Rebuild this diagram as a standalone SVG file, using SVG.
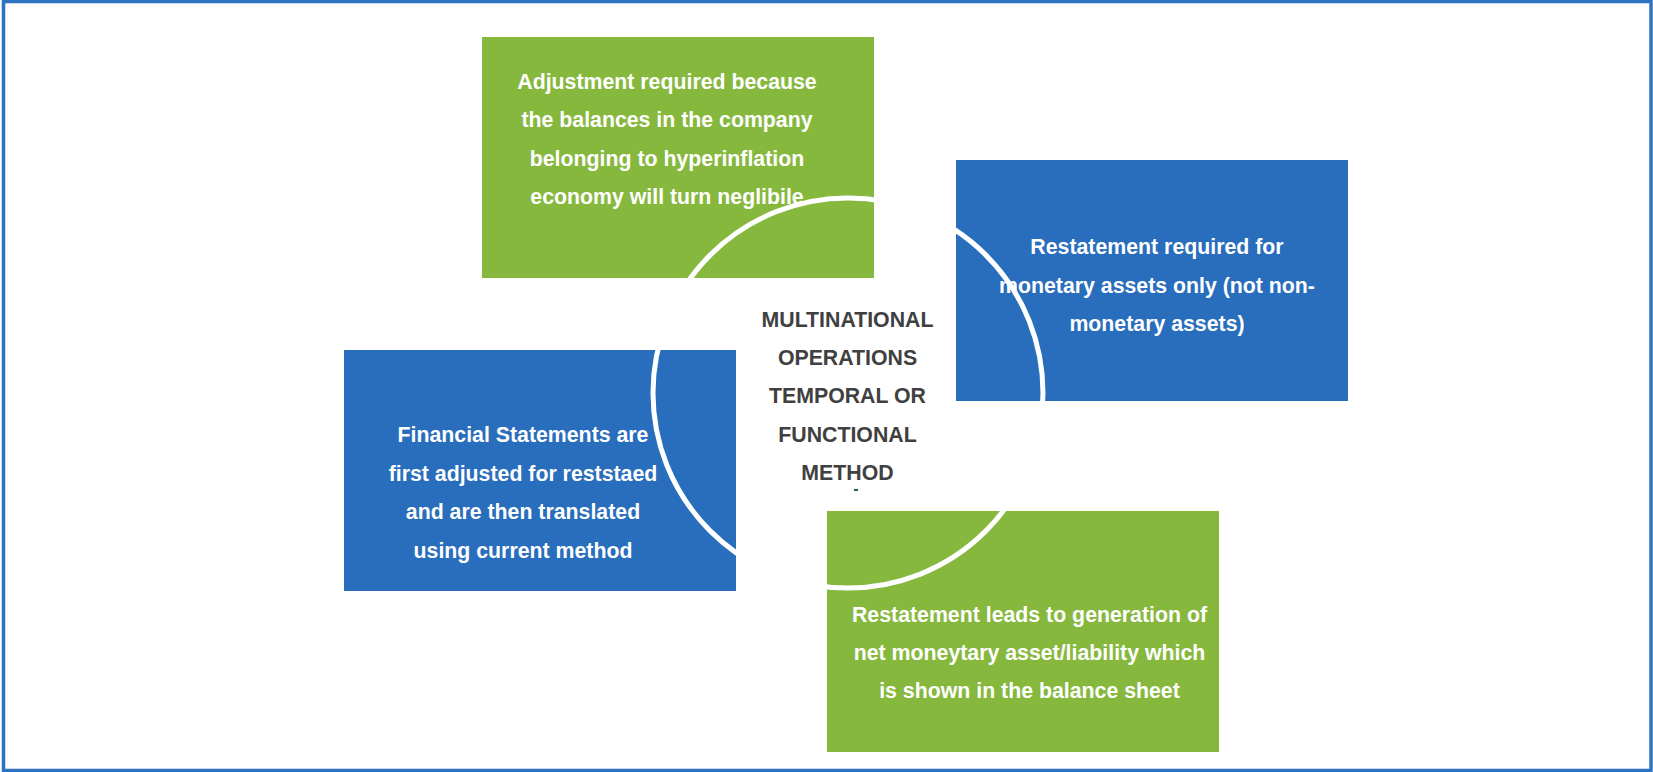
<svg xmlns="http://www.w3.org/2000/svg" width="1653" height="772" viewBox="0 0 1653 772">
<style>
.box-g{fill:#86B83E}
.box-b{fill:#296DBD}
.t{font-family:"Liberation Sans",Arial,sans-serif;font-weight:bold;font-size:21.3px;text-anchor:middle}
.w{fill:#FFFFFF}
.c{fill:#404040}
</style>
<rect x="0" y="0" width="1653" height="772" fill="#FFFFFF"/>
<rect x="3.5" y="1.5" width="1647.5" height="769" fill="none" stroke="#2E72C2" stroke-width="3.5"/>
<g id="node-top">
<rect class="box-g" x="482" y="37" width="392" height="241"/>
<text class="t w"><tspan x="667" y="89">Adjustment required because</tspan><tspan x="667" y="127.3">the balances in the company</tspan><tspan x="667" y="165.7">belonging to hyperinflation</tspan><tspan x="667" y="204">economy will turn neglibile</tspan></text>
</g>
<g id="node-right">
<rect class="box-b" x="956" y="160" width="392" height="241"/>
<text class="t w"><tspan x="1157" y="254">Restatement required for</tspan><tspan x="1157" y="292.7">monetary assets only (not non-</tspan><tspan x="1157" y="331">monetary assets)</tspan></text>
</g>
<g id="node-left">
<rect class="box-b" x="344" y="350" width="392" height="241"/>
<text class="t w"><tspan x="523" y="441.7">Financial Statements are</tspan><tspan x="523" y="480.7">first adjusted for reststaed</tspan><tspan x="523" y="519">and are then translated</tspan><tspan x="523" y="557.7">using current method</tspan></text>
</g>
<g id="node-bottom">
<rect class="box-g" x="827" y="511" width="392" height="241"/>
<text class="t w"><tspan x="1029.5" y="621.7">Restatement leads to generation of</tspan><tspan x="1029.5" y="660">net moneytary asset/liability which</tspan><tspan x="1029.5" y="697.7">is shown in the balance sheet</tspan></text>
</g>
<g id="connectors">
<circle cx="848" cy="393" r="195" fill="none" stroke="#FFFFFF" stroke-width="5"/>
</g>
<g id="node-center">
<text class="t c"><tspan x="847.5" y="326.7">MULTINATIONAL</tspan><tspan x="847.5" y="365">OPERATIONS</tspan><tspan x="847.5" y="403.3">TEMPORAL OR</tspan><tspan x="847.5" y="441.7">FUNCTIONAL</tspan><tspan x="847.5" y="480">METHOD</tspan></text>
<rect x="854" y="489" width="4" height="2" fill="#1E6B3A"/>
</g>
</svg>
